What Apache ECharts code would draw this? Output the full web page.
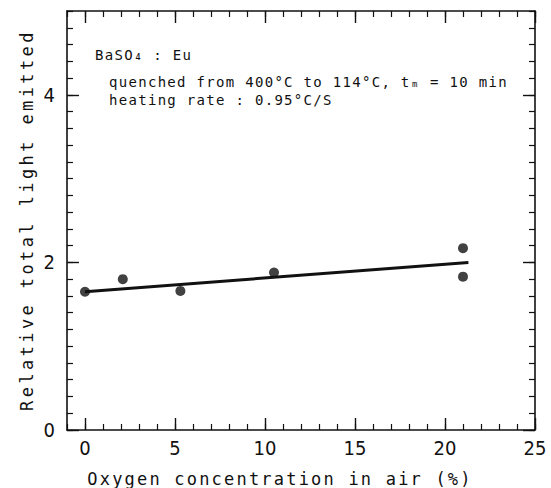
<!DOCTYPE html>
<html><head><meta charset="utf-8">
<script src="https://cdn.jsdelivr.net/npm/echarts@6/dist/echarts.min.js"></script>
<style>
html,body{margin:0;padding:0;background:#fff}
#c{width:551px;height:488px}
.t{position:absolute;white-space:nowrap;color:#111;font-family:'DejaVu Sans Mono','Liberation Mono',monospace;pointer-events:none}
.note{font-size:14px;line-height:14px;letter-spacing:1.3px}
#xt{left:280px;top:479px;font-size:17px;line-height:17px;letter-spacing:2.2px;transform:translate(-50%,-50%)}
#yt{left:27px;top:220px;font-size:17px;line-height:17px;letter-spacing:3.4px;transform:translate(-50%,-50%) rotate(-90deg)}
</style>
</head><body><div id="c"></div>
<div class="t note" id="n0" style="left:95px;top:48px"></div>
<div class="t note" id="n1" style="left:109px;top:75px"></div>
<div class="t note" id="n2" style="left:109px;top:93px"></div>
<div class="t" id="xt"></div>
<div class="t" id="yt"></div>
<script>
const oxygen = [0, 2.1, 5.3, 10.5, 21.0, 21.0];
const light = [1.65, 1.80, 1.66, 1.88, 2.17, 1.83];
const fitX = [0, 21.3];
const fitY = [1.65, 2.0];
const xTicks = [0, 5, 10, 15, 20, 25];
const yTicks = [0, 2, 4];
const xTitle = 'Oxygen concentration in air (%)';
const yTitle = 'Relative total light emitted';
const notes = ['BaSO₄ : Eu', 'quenched from 400°C to 114°C, tₘ = 10 min', 'heating rate : 0.95°C/S'];

const INK = '#111';
const NARROW = "'Liberation Sans Narrow', 'DejaVu Sans Condensed', Roboto, sans-serif";
function xAxis(pos, major, labels) {
  return {
    type: 'value', position: pos, min: -1, max: 25,
    interval: major ? undefined : 1,
    axisLine: { show: !major, onZero: false, lineStyle: { color: INK, width: 1.6 } },
    axisTick: major
      ? { show: true, inside: true, length: 12, customValues: xTicks, lineStyle: { color: INK, width: 1.4 } }
      : { show: true, inside: true, length: 6, lineStyle: { color: INK, width: 1.2 } },
    axisLabel: labels
      ? { show: true, customValues: xTicks, color: INK, fontFamily: NARROW, fontSize: 20, margin: 8 }
      : { show: false },
    splitLine: { show: false }
  };
}
function yAxis(pos, major, labels) {
  return {
    type: 'value', position: pos, min: 0, max: 5,
    interval: major ? undefined : 0.2,
    axisLine: { show: !major, onZero: false, lineStyle: { color: INK, width: 1.6 } },
    axisTick: major
      ? { show: true, inside: true, length: 12, customValues: yTicks, lineStyle: { color: INK, width: 1.4 } }
      : { show: true, inside: true, length: 6, lineStyle: { color: INK, width: 1.2 } },
    axisLabel: labels
      ? { show: true, customValues: yTicks, color: INK, fontFamily: NARROW, fontSize: 20, margin: 12 }
      : { show: false },
    splitLine: { show: false }
  };
}
const chart = echarts.init(document.getElementById('c'), null, { renderer: 'svg' });
chart.setOption({
  animation: false,
  grid: { left: 67, right: 16, top: 11, bottom: 58 },
  xAxis: [xAxis('bottom', false, true), xAxis('bottom', true, false), xAxis('top', false, false), xAxis('top', true, false)],
  yAxis: [yAxis('left', false, true), yAxis('left', true, false), yAxis('right', false, false), yAxis('right', true, false)],
  series: [
    { type: 'line', data: fitX.map((x, i) => [x, fitY[i]]), symbol: 'none', lineStyle: { color: INK, width: 3 } },
    { type: 'scatter', data: oxygen.map((x, i) => [x, light[i]]), symbolSize: 10, itemStyle: { color: INK } }
  ]
});
let info = 'paths ' + document.querySelectorAll('#c svg path').length + '\n';
const m = chart.getModel();
['xAxis', 'yAxis'].forEach(t => m.eachComponent(t, (a, i) => {
  let tc = -1; try { tc = a.axis.getTicksCoords().length; } catch (e) { tc = 'err'; }
  info += t + i + ' ' + a.axis.position + ' ' + tc + ' ' + a.get(['axisTick', 'show']) + ' ' + a.axis.getExtent().join(',') + '\n';
}));
window.__axisInfo = info;

document.getElementById('n0').textContent = notes[0];
document.getElementById('n1').textContent = notes[1];
document.getElementById('n2').textContent = notes[2];
document.getElementById('xt').textContent = xTitle;
document.getElementById('yt').textContent = yTitle;
</script>
</body></html>
